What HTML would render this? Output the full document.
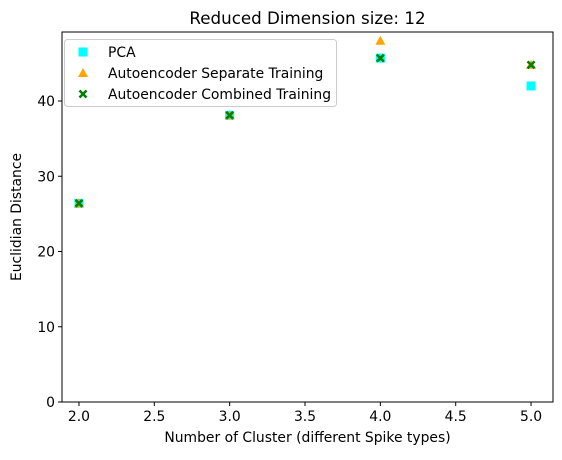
<!DOCTYPE html>
<html><head><meta charset="utf-8"><style>
body{margin:0;background:#fff;font-family:"Liberation Sans","DejaVu Sans",sans-serif;}
svg text{font-family:"DejaVu Sans","Liberation Sans",sans-serif;}
</style></head><body>
<svg id="c" width="562" height="455" xmlns="http://www.w3.org/2000/svg"></svg>
<script>
const categories=[2,3,4,5];
const pcaValues=[26.4,38.1,45.7,42.0];
const sepValues=[26.4,38.1,48.0,44.8];
const combValues=[26.4,38.1,45.7,44.8];
const xTicks=[2.0,2.5,3.0,3.5,4.0,4.5,5.0];
const yTicks=[0,10,20,30,40];
const L=62,R=553,T=32,B=402;
const xMin=1.8874,xMax=5.1457,yMin=0,yMax=49.17;
const sx=v=>L+(v-xMin)/(xMax-xMin)*(R-L);
const sy=v=>B-(v-yMin)/(yMax-yMin)*(B-T);
const svg=document.getElementById('c');const NS='http://www.w3.org/2000/svg';
function mk(t,a,p){const e=document.createElementNS(NS,t);for(const k in a)e.setAttribute(k,a[k]);(p||svg).appendChild(e);return e;}
let g=mk('g',{});


xTicks.forEach(v=>{mk('line',{x1:sx(v),x2:sx(v),y1:B,y2:B+4,stroke:'#000'},g);const t=mk('text',{x:sx(v),y:B+19,'font-size':13.9,'text-anchor':'middle'},g);t.textContent=v.toFixed(1);});
let g2=mk('g',{});


yTicks.forEach(v=>{mk('line',{x1:L-4,x2:L,y1:sy(v),y2:sy(v),stroke:'#000'},g2);const t=mk('text',{x:L-7,y:sy(v)+5,'font-size':13.9,'text-anchor':'end'},g2);t.textContent=v;});
function sq(x,y,p){const e=mk('rect',{x:x-4.5,y:y-4.5,width:9,height:9,fill:'#00ffff'},p);}
function tri(x,y,p){const e=mk('polygon',{points:`${x},${y-5} ${x-5},${y+4} ${x+5},${y+4}`,fill:'#ffa500'},p);}
function cross(x,y,p){const e=mk('path',{d:`M${x-3.5},${y-3.5}L${x+3.5},${y+3.5}M${x-3.5},${y+3.5}L${x+3.5},${y-3.5}`,stroke:'#008000','stroke-width':2.6},p);}
categories.forEach((c,i)=>sq(sx(c),sy(pcaValues[i])));
categories.forEach((c,i)=>tri(sx(c),sy(sepValues[i])));
categories.forEach((c,i)=>cross(sx(c),sy(combValues[i])));
const frame=mk('rect',{x:L,y:T,width:R-L,height:B-T,fill:'none',stroke:'#000','stroke-width':1});


const lg=mk('g',{});


mk('rect',{x:64.5,y:39.5,width:272,height:67,rx:3,fill:'#fff','fill-opacity':0.8,stroke:'#ccc'},lg);
sq(83,52,lg);tri(83,73,lg);cross(83,94,lg);
[['PCA',57],['Autoencoder Separate Training',78],['Autoencoder Combined Training',99]].forEach(([s,y])=>{const t=mk('text',{x:108,y:y,'font-size':13.9},lg);t.textContent=s;});
const tt=mk('text',{x:(L+R)/2,y:24,'font-size':16.7,'text-anchor':'middle'});tt.textContent='Reduced Dimension size: 12';

const xl=mk('text',{x:(L+R)/2,y:442,'font-size':13.9,'text-anchor':'middle'});xl.textContent='Number of Cluster (different Spike types)';

const yl=mk('text',{x:0,y:0,'font-size':13.9,'text-anchor':'middle',transform:`translate(21,${(T+B)/2}) rotate(-90)`});yl.textContent='Euclidian Distance';

</script>
</body></html>
